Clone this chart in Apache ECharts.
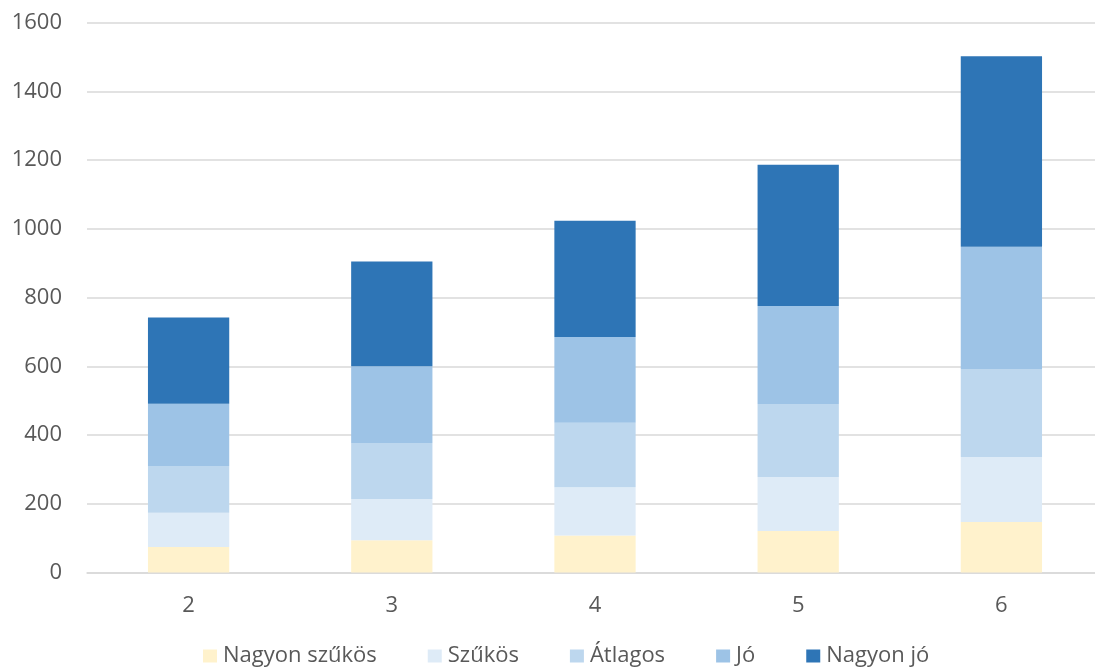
<!DOCTYPE html>
<html>
<head>
<meta charset="utf-8">
<script src="https://cdn.jsdelivr.net/npm/echarts@6/dist/echarts.min.js"></script>
<style>
  html, body { margin: 0; padding: 0; background: #fff; overflow: hidden; }
  #chart { width: 1115px; height: 671px; }
</style>
</head>
<body>
<div id="chart"></div>
<script>
const categories = ['2', '3', '4', '5', '6'];
const seriesNames = ['Nagyon szűkös', 'Szűkös', 'Átlagos', 'Jó', 'Nagyon jó'];
const colors = ['#FFF2CC', '#DEEBF7', '#BDD7EE', '#9DC3E6', '#2E75B6'];

// stacked segment values
const nagyonSzukos = [74, 94, 108, 121, 147];
const szukos = [100, 120, 140, 157, 189];
const atlagos = [136, 163, 188, 212, 256];
const jo = [181, 223, 249, 285, 356];
const nagyonJo = [251, 305, 338, 411, 554];

const values = [nagyonSzukos, szukos, atlagos, jo, nagyonJo];
const yTicks = { min: 0, max: 1600, interval: 200 };

const chart = echarts.init(document.getElementById('chart'));
chart.setOption({
  animation: false,
  color: colors,
  textStyle: { fontFamily: 'Open Sans' },
  grid: { left: 87, top: 22.5, width: 1016, height: 550 },
  legend: {
    bottom: 4,
    left: 203,
    padding: 0,
    itemWidth: 14,
    itemHeight: 13,
    itemGap: 51,
    icon: 'rect',
    textStyle: { fontSize: 22, color: '#595959', fontFamily: 'Open Sans', padding: [0, 0, 0, 1] },
    data: seriesNames
  },
  xAxis: {
    type: 'category',
    data: categories,
    axisTick: { show: false },
    axisLine: { lineStyle: { color: '#D9D9D9', width: 1.5 } },
    axisLabel: { fontSize: 22, color: '#595959', margin: 22 }
  },
  yAxis: {
    type: 'value',
    min: yTicks.min,
    max: yTicks.max,
    interval: yTicks.interval,
    axisLine: { show: false },
    axisTick: { show: false },
    splitLine: { lineStyle: { color: '#D9D9D9', width: 1.5 } },
    axisLabel: { fontSize: 22, color: '#595959', margin: 25, formatter: v => String(v) }
  },
  series: seriesNames.map((name, i) => ({
    name,
    type: 'bar',
    stack: 'total',
    barWidth: '40%',
    data: values[i],
    itemStyle: { color: colors[i] }
  }))
});
</script>
</body>
</html>
